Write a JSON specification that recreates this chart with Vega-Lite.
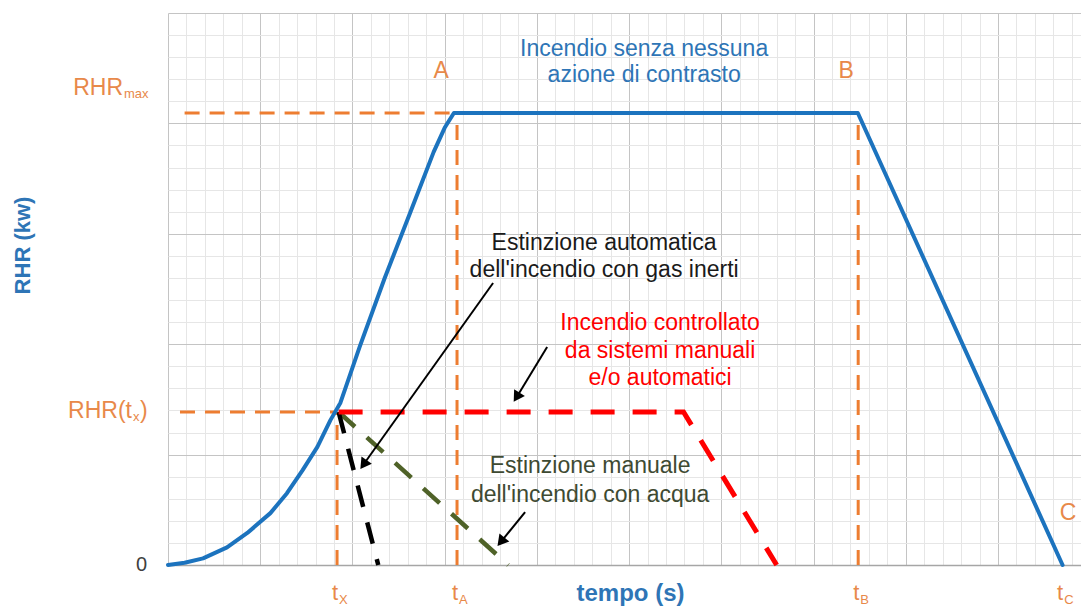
{
  "$schema": "https://vega.github.io/schema/vega-lite/v6.json",
  "width": 913,
  "height": 552,
  "autosize": {"type": "none"},
  "padding": {"left": 168, "top": 13, "right": 0, "bottom": 48},
  "background": "white",
  "config": {"view": {"stroke": null}, "font": "Liberation Sans", "text": {"font": "Liberation Sans"}},
  "datasets": {
    "blue": [
      {"x": 0, "y": 0}, {"x": 0.18, "y": 0.02}, {"x": 0.38, "y": 0.06}, {"x": 0.64, "y": 0.16},
      {"x": 0.86, "y": 0.29}, {"x": 1.11, "y": 0.47}, {"x": 1.29, "y": 0.65}, {"x": 1.46, "y": 0.86},
      {"x": 1.62, "y": 1.07}, {"x": 1.76, "y": 1.31}, {"x": 1.87, "y": 1.47}, {"x": 2.08, "y": 1.98},
      {"x": 2.35, "y": 2.6}, {"x": 2.63, "y": 3.2}, {"x": 2.88, "y": 3.74}, {"x": 3.0, "y": 3.96},
      {"x": 3.1, "y": 4.094}, {"x": 7.48, "y": 4.094}, {"x": 9.7, "y": 0}
    ],
    "red": [{"x": 1.85, "y": 1.386}, {"x": 5.59, "y": 1.386}, {"x": 6.6, "y": 0}],
    "black": [{"x": 1.85, "y": 1.386}, {"x": 2.28, "y": 0}],
    "green": [{"x": 1.85, "y": 1.386}, {"x": 3.69, "y": 0}],
    "guides": [
      {"x": 0.18, "y": 4.094, "x2": 3.134, "y2": 4.094},
      {"x": 0.13, "y": 1.386, "x2": 1.833, "y2": 1.386},
      {"x": 1.833, "y": 0, "x2": 1.833, "y2": 1.386},
      {"x": 3.134, "y": 0, "x2": 3.134, "y2": 4.094},
      {"x": 7.484, "y": 0, "x2": 7.484, "y2": 4.094}
    ],
    "arrows": [
      {"id": 1, "x": 3.525, "y": 2.554, "x2": 2.12, "y2": 0.91},
      {"id": 2, "x": 4.111, "y": 1.975, "x2": 3.78, "y2": 1.52},
      {"id": 3, "x": 3.872, "y": 0.48, "x2": 3.61, "y2": 0.21}
    ],
    "notes": [
      {"x": 5.163, "y": 4.611, "text": "Incendio senza nessuna", "group": "blue"},
      {"x": 5.163, "y": 4.375, "text": "azione di contrasto", "group": "blue"},
      {"x": 4.729, "y": 2.853, "text": "Estinzione automatica", "group": "black"},
      {"x": 4.729, "y": 2.609, "text": "dell'incendio con gas inerti", "group": "black"},
      {"x": 5.336, "y": 2.129, "text": "Incendio controllato", "group": "red"},
      {"x": 5.336, "y": 1.875, "text": "da sistemi manuali", "group": "red"},
      {"x": 5.336, "y": 1.63, "text": "e/o automatici", "group": "red"},
      {"x": 4.577, "y": 0.833, "text": "Estinzione manuale", "group": "green"},
      {"x": 4.577, "y": 0.571, "text": "dell'incendio con acqua", "group": "green"},
      {"x": 2.961, "y": 4.411, "text": "A", "group": "orange"},
      {"x": 7.354, "y": 4.411, "text": "B", "group": "orange"},
      {"x": 9.761, "y": 0.408, "text": "C", "group": "orange"}
    ],
    "ylab": [
      {"key": "max", "x": 0, "y": 4.094, "main": "RHR", "sub": "max", "close": ""},
      {"key": "tx", "x": 0, "y": 1.386, "main": "RHR(t", "sub": "x", "close": ")"},
      {"key": "zero", "x": 0, "y": 0, "main": "0", "sub": "", "close": ""}
    ],
    "xlab": [
      {"x": 1.833, "y": 0, "main": "t", "sub": "X"},
      {"x": 3.134, "y": 0, "main": "t", "sub": "A"},
      {"x": 7.484, "y": 0, "main": "t", "sub": "B"},
      {"x": 9.696, "y": 0, "main": "t", "sub": "C"}
    ]
  },
  "layer": [
    {
      "data": {"name": "guides"},
      "mark": {"type": "rule", "color": "#ED7D31", "strokeWidth": 3, "strokeDash": [15, 10]},
      "encoding": {
        "x": {"field": "x", "type": "quantitative", "scale": {"domain": [0, 9.9], "nice": false, "zero": false},
          "axis": {"orient": "bottom", "grid": true, "values": [0.2,0.4,0.6,0.8,1.2,1.4,1.6,1.8,2.2,2.4,2.6,2.8,3.2,3.4,3.6,3.8,4.2,4.4,4.6,4.8,5.2,5.4,5.6,5.8,6.2,6.4,6.6,6.8,7.2,7.4,7.6,7.8,8.2,8.4,8.6,8.8,9.2,9.4,9.6,9.8],
            "gridColor": "#e6e6e6", "gridWidth": 1, "labels": false, "ticks": false, "domain": true, "domainColor": "#a6a6a6", "domainWidth": 1.5,
            "title": "tempo (s)", "titleFont": "Liberation Sans", "titleFontSize": 24, "titleFontWeight": "bold", "titleColor": "#2E75B6",
            "titleX": 462, "titleY": 35, "titleBaseline": "alphabetic", "titleAlign": "center", "titleAngle": 0}},
        "y": {"field": "y", "type": "quantitative", "scale": {"domain": [0, 5], "nice": false, "zero": false},
          "axis": {"orient": "left", "grid": true, "values": [0.2,0.4,0.6,0.8,1.2,1.4,1.6,1.8,2.2,2.4,2.6,2.8,3.2,3.4,3.6,3.8,4.2,4.4,4.6,4.8],
            "gridColor": "#e6e6e6", "gridWidth": 1, "labels": false, "ticks": false, "domain": false,
            "title": "RHR (kw)", "titleFont": "Liberation Sans", "titleFontSize": 22, "titleFontWeight": "bold", "titleColor": "#2E75B6",
            "titleX": -146, "titleY": 232, "titleAngle": -90, "titleAlign": "center", "titleBaseline": "middle"}},
        "x2": {"field": "x2"},
        "y2": {"field": "y2"}
      }
    },
    {
      "data": {"name": "green"},
      "mark": {"type": "line", "color": "#4F6228", "strokeWidth": 4.5, "strokeDash": [22, 16]},
      "encoding": {
        "x": {"field": "x", "type": "quantitative", "scale": {"domain": [0, 9.9], "nice": false, "zero": false},
          "axis": {"orient": "top", "grid": true, "values": [0,1,2,3,4,5,6,7,8,9], "gridColor": "#c4c4c4", "gridWidth": 1, "labels": false, "ticks": false, "domain": false, "title": null}},
        "y": {"field": "y", "type": "quantitative", "scale": {"domain": [0, 5], "nice": false, "zero": false},
          "axis": {"orient": "right", "grid": true, "values": [0,1,2,3,4,5], "gridColor": "#c4c4c4", "gridWidth": 1, "labels": false, "ticks": false, "domain": false, "title": null}}
      }
    },
    {
      "data": {"name": "black"},
      "mark": {"type": "line", "color": "#000000", "strokeWidth": 4.5, "strokeDash": [22, 16]},
      "encoding": {
        "x": {"field": "x", "type": "quantitative", "scale": {"domain": [0, 9.9], "nice": false, "zero": false}, "axis": null},
        "y": {"field": "y", "type": "quantitative", "scale": {"domain": [0, 5], "nice": false, "zero": false}, "axis": null}
      }
    },
    {
      "data": {"name": "red"},
      "mark": {"type": "line", "color": "#FF0000", "strokeWidth": 5, "strokeDash": [24, 18]},
      "encoding": {
        "x": {"field": "x", "type": "quantitative", "scale": {"domain": [0, 9.9], "nice": false, "zero": false}, "axis": null},
        "y": {"field": "y", "type": "quantitative", "scale": {"domain": [0, 5], "nice": false, "zero": false}, "axis": null}
      }
    },
    {
      "data": {"name": "blue"},
      "mark": {"type": "line", "color": "#1C73BE", "strokeWidth": 4, "strokeJoin": "round", "strokeCap": "round"},
      "encoding": {
        "x": {"field": "x", "type": "quantitative", "scale": {"domain": [0, 9.9], "nice": false, "zero": false}, "axis": null},
        "y": {"field": "y", "type": "quantitative", "scale": {"domain": [0, 5], "nice": false, "zero": false}, "axis": null}
      }
    },
    {
      "data": {"name": "arrows"},
      "mark": {"type": "rule", "color": "#000000", "strokeWidth": 2},
      "encoding": {
        "x": {"field": "x", "type": "quantitative", "axis": null},
        "y": {"field": "y", "type": "quantitative", "axis": null},
        "x2": {"field": "x2"},
        "y2": {"field": "y2"}
      }
    },
    {
      "data": {"name": "arrows"},
      "transform": [{"filter": "datum.id == 1"}],
      "mark": {"type": "point", "shape": "triangle-up", "filled": true, "color": "#000000", "opacity": 1, "size": 160, "angle": 215},
      "encoding": {"x": {"field": "x2", "type": "quantitative", "axis": null}, "y": {"field": "y2", "type": "quantitative", "axis": null}}
    },
    {
      "data": {"name": "arrows"},
      "transform": [{"filter": "datum.id == 2"}],
      "mark": {"type": "point", "shape": "triangle-up", "filled": true, "color": "#000000", "opacity": 1, "size": 160, "angle": 212},
      "encoding": {"x": {"field": "x2", "type": "quantitative", "axis": null}, "y": {"field": "y2", "type": "quantitative", "axis": null}}
    },
    {
      "data": {"name": "arrows"},
      "transform": [{"filter": "datum.id == 3"}],
      "mark": {"type": "point", "shape": "triangle-up", "filled": true, "color": "#000000", "opacity": 1, "size": 160, "angle": 219},
      "encoding": {"x": {"field": "x2", "type": "quantitative", "axis": null}, "y": {"field": "y2", "type": "quantitative", "axis": null}}
    },
    {
      "data": {"name": "notes"},
      "mark": {"type": "text", "align": "center", "baseline": "alphabetic", "fontSize": 23},
      "encoding": {
        "x": {"field": "x", "type": "quantitative", "axis": null},
        "y": {"field": "y", "type": "quantitative", "axis": null},
        "text": {"field": "text"},
        "color": {"field": "group", "type": "nominal", "legend": null,
          "scale": {"domain": ["blue", "black", "red", "green", "orange"], "range": ["#2E75B6", "#1a1a1a", "#FF0000", "#3E4A32", "#E8894A"]}}
      }
    },
    {
      "data": {"name": "ylab"},
      "transform": [{"filter": "datum.key == 'max'"}],
      "mark": {"type": "text", "align": "right", "baseline": "alphabetic", "fontSize": 23, "color": "#E8894A", "dx": -45, "dy": -18},
      "encoding": {"x": {"field": "x", "type": "quantitative", "axis": null}, "y": {"field": "y", "type": "quantitative", "axis": null}, "text": {"field": "main"}}
    },
    {
      "data": {"name": "ylab"},
      "transform": [{"filter": "datum.key == 'max'"}],
      "mark": {"type": "text", "align": "left", "baseline": "alphabetic", "fontSize": 13, "color": "#E8894A", "dx": -44, "dy": -15},
      "encoding": {"x": {"field": "x", "type": "quantitative", "axis": null}, "y": {"field": "y", "type": "quantitative", "axis": null}, "text": {"field": "sub"}}
    },
    {
      "data": {"name": "ylab"},
      "transform": [{"filter": "datum.key == 'tx'"}],
      "mark": {"type": "text", "align": "right", "baseline": "alphabetic", "fontSize": 23, "color": "#E8894A", "dx": -36, "dy": 6},
      "encoding": {"x": {"field": "x", "type": "quantitative", "axis": null}, "y": {"field": "y", "type": "quantitative", "axis": null}, "text": {"field": "main"}}
    },
    {
      "data": {"name": "ylab"},
      "transform": [{"filter": "datum.key == 'tx'"}],
      "mark": {"type": "text", "align": "left", "baseline": "alphabetic", "fontSize": 13, "color": "#E8894A", "dx": -35, "dy": 9},
      "encoding": {"x": {"field": "x", "type": "quantitative", "axis": null}, "y": {"field": "y", "type": "quantitative", "axis": null}, "text": {"field": "sub"}}
    },
    {
      "data": {"name": "ylab"},
      "transform": [{"filter": "datum.key == 'tx'"}],
      "mark": {"type": "text", "align": "left", "baseline": "alphabetic", "fontSize": 23, "color": "#E8894A", "dx": -28, "dy": 6},
      "encoding": {"x": {"field": "x", "type": "quantitative", "axis": null}, "y": {"field": "y", "type": "quantitative", "axis": null}, "text": {"field": "close"}}
    },
    {
      "data": {"name": "ylab"},
      "transform": [{"filter": "datum.key == 'zero'"}],
      "mark": {"type": "text", "align": "right", "baseline": "middle", "fontSize": 20, "color": "#404040", "dx": -21, "dy": 0},
      "encoding": {"x": {"field": "x", "type": "quantitative", "axis": null}, "y": {"field": "y", "type": "quantitative", "axis": null}, "text": {"field": "main"}}
    },
    {
      "data": {"name": "xlab"},
      "mark": {"type": "text", "align": "center", "baseline": "alphabetic", "fontSize": 22, "color": "#E8894A", "dx": -2, "dy": 35},
      "encoding": {"x": {"field": "x", "type": "quantitative", "axis": null}, "y": {"field": "y", "type": "quantitative", "axis": null}, "text": {"field": "main"}}
    },
    {
      "data": {"name": "xlab"},
      "mark": {"type": "text", "align": "left", "baseline": "alphabetic", "fontSize": 13, "color": "#E8894A", "dx": 2, "dy": 39},
      "encoding": {"x": {"field": "x", "type": "quantitative", "axis": null}, "y": {"field": "y", "type": "quantitative", "axis": null}, "text": {"field": "sub"}}
    }
  ],
  "resolve": {"axis": {"x": "independent", "y": "independent"}}
}
